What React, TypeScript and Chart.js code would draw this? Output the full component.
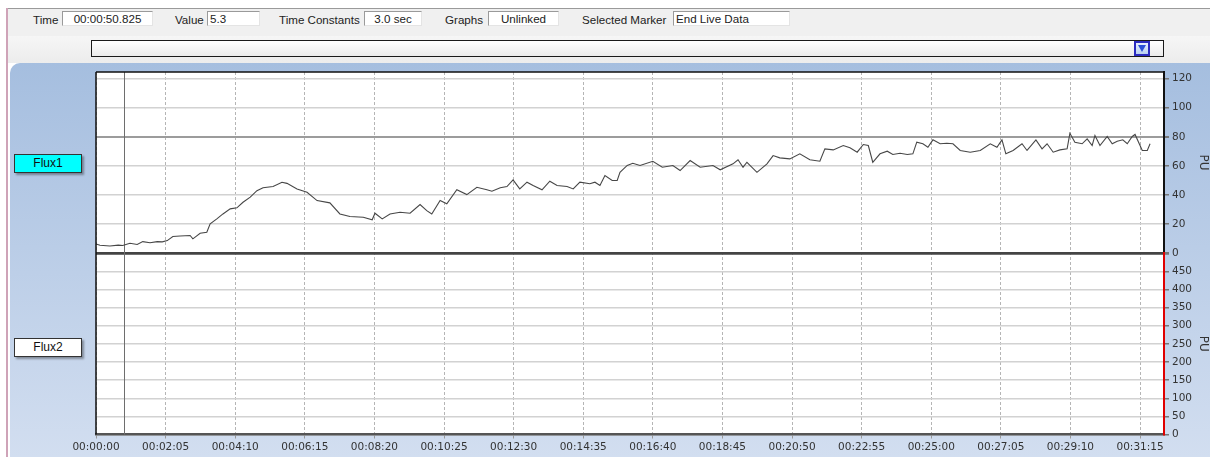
import React, { useEffect, useRef } from "react";
import { Chart, registerables } from "chart.js";

Chart.register(...registerables);

// ---------- data ----------
const fluxTimes = [0,7,25,40,48,61,74,84,97,110,119,128,138,151,169,174,187,199,205,217,228,241,253,264,277,289,300,318,334,343,361,379,397,420,438,456,480,496,501,514,528,546,564,582,594,603,618,630,648,666,684,702,711,726,738,749,761,774,785,801,815,828,846,857,869,887,896,905,914,927,936,941,954,964,977,1000,1017,1036,1049,1067,1085,1108,1121,1144,1153,1162,1169,1187,1205,1216,1228,1246,1264,1282,1300,1309,1324,1342,1354,1367,1378,1387,1395,1408,1421,1431,1444,1457,1467,1474,1485,1494,1503,1516,1528,1539,1552,1570,1588,1606,1618,1627,1634,1647,1663,1672,1688,1699,1708,1719,1731,1744,1749,1758,1771,1780,1789,1794,1803,1816,1825,1834,1844,1852,1861,1866,1879,1888,1893];
const flux1Values = [6.4,5.5,5.0,5.6,5.3,6.9,6.0,8.0,7.2,8.0,7.8,8.7,11.5,11.8,12.2,9.9,13.7,14.4,20.2,23.6,27.0,30.5,31.2,35.0,38.5,43.0,45.0,45.8,48.8,48.0,44.2,41.9,36.2,34.6,27.0,25.2,24.7,23.0,27.5,23.6,27.0,28.2,27.5,33.5,29.3,27.0,36.2,34.0,43.6,40.3,45.3,43.6,42.6,45.0,45.8,50.4,44.2,48.8,46.5,43.6,49.5,46.5,45.8,44.2,48.8,47.7,48.8,46.5,53.4,50.0,50.0,55.6,60.3,61.8,60.3,63.2,59.1,60.3,56.8,63.7,59.1,60.3,57.3,61.4,64.2,59.1,62.5,55.6,61.4,67.1,65.5,64.8,68.3,64.2,63.2,71.7,71.0,74.0,72.4,69.4,74.7,74.0,62.5,68.3,70.1,67.8,68.7,67.8,68.3,76.3,75.2,72.8,77.9,75.2,75.6,75.2,70.6,69.4,70.6,75.2,72.8,77.9,68.3,70.6,75.2,70.6,77.9,71.7,75.2,69.4,71.0,71.7,82.4,76.3,75.2,78.6,74.0,80.9,74.0,80.2,75.2,76.9,77.9,75.2,80.2,81.6,70.6,70.6,75.2];
const flux2Values: number[] = [];

const xTickSeconds = [0,125,250,375,500,625,750,875,1000,1125,1250,1375,1500,1625,1750,1875];
const flux1Ticks = [0,20,40,60,80,100,120];
const flux2Ticks = [0,50,100,150,200,250,300,350,400,450,500];
const markerTime = 50.825;
const limitValue = 80;

const toolbarLabels = ["Time", "Value", "Time Constants", "Graphs", "Selected Marker"];
const toolbarValues = ["00:00:50.825", "5.3", "3.0 sec", "Unlinked", "End Live Data"];
const channelNames = ["Flux1", "Flux2"];
const unitLabel = "PU";

// ---------- helpers ----------
const pad2 = (n: number) => String(n).padStart(2, "0");
const fmtTime = (s: number) => {
  const h = Math.floor(s / 3600);
  const m = Math.floor((s % 3600) / 60);
  const sec = Math.round(s % 60);
  return `${pad2(h)}:${pad2(m)}:${pad2(sec)}`;
};

const tickFont = { family: "DejaVu Sans", size: 10.5 };
const titleFont = { family: "DejaVu Sans", size: 12 };

const framePlugin = {
  id: "frame",
  beforeDraw(chart: any) {
    const { ctx, chartArea: a } = chart;
    ctx.save();
    ctx.fillStyle = "#ffffff";
    ctx.fillRect(a.left, a.top, a.right - a.left, a.bottom - a.top);
    ctx.restore();
  },
  beforeDatasetsDraw(chart: any) {
    const { ctx, chartArea: a } = chart;
    const x = chart.scales.x.getPixelForValue(markerTime);
    ctx.save();
    ctx.strokeStyle = "#6e6e6e";
    ctx.lineWidth = 1;
    ctx.beginPath();
    ctx.moveTo(Math.round(x) + 0.5, a.top);
    ctx.lineTo(Math.round(x) + 0.5, a.bottom);
    ctx.stroke();
    ctx.restore();
  },
  afterDraw(chart: any) {
    const { ctx, chartArea: a } = chart;
    ctx.save();
    ctx.strokeStyle = "#111";
    ctx.lineWidth = 1.5;
    ctx.beginPath();
    ctx.moveTo(a.left, a.top);
    ctx.lineTo(a.right, a.top);
    ctx.moveTo(a.left, a.top);
    ctx.lineTo(a.left, a.bottom);
    ctx.stroke();
    ctx.restore();
  },
};

function FluxChart() {
  const ref = useRef<HTMLCanvasElement | null>(null);
  useEffect(() => {
    if (!ref.current) return;
    const chart = new Chart(ref.current, {
      type: "line",
      data: {
        datasets: [
          {
            label: channelNames[0],
            data: fluxTimes.map((t, i) => ({ x: t, y: flux1Values[i] })),
            yAxisID: "y1",
            borderColor: "#474747",
            borderWidth: 1.1,
            pointRadius: 0,
            tension: 0,
          },
          {
            label: channelNames[1],
            data: flux2Values.map((v, i) => ({ x: fluxTimes[i], y: v })),
            yAxisID: "y2",
            borderColor: "#474747",
            borderWidth: 1,
            pointRadius: 0,
          },
        ],
      },
      options: {
        animation: false,
        responsive: false,
        devicePixelRatio: 1,
        layout: { padding: { left: 96, top: 72, right: 0, bottom: 0 } },
        plugins: { legend: { display: false }, tooltip: { enabled: false } },
        scales: {
          x: {
            type: "linear",
            min: 0,
            max: 1918,
            afterBuildTicks: (s: any) => {
              s.ticks = xTickSeconds.map((v) => ({ value: v }));
            },
            afterFit: (s: any) => {
              s.height = 22.5;
            },
            ticks: {
              font: tickFont,
              color: "#333",
              padding: 2,
              maxRotation: 0,
              autoSkip: false,
              callback: (v: any) => fmtTime(Number(v)),
            },
            grid: {
              color: "#b5b5b5",
              lineWidth: 1,
              tickLength: 4,
              tickColor: "#999",
            },
            border: { color: "#555", width: 2.5, dash: [3, 2] },
          },
          y1: {
            type: "linear",
            position: "right",
            stack: "flux",
            stackWeight: 1,
            min: 0,
            max: 124.5,
            afterBuildTicks: (s: any) => {
              s.ticks = flux1Ticks.map((v) => ({ value: v }));
            },
            afterFit: (s: any) => {
              s.width = 46;
            },
            ticks: { font: tickFont, color: "#333", padding: 3, autoSkip: false },
            grid: {
              color: (c: any) =>
                c.tick && c.tick.value === 0 ? "#444" : c.tick && c.tick.value === limitValue ? "#9c9c9c" : "#d2d2d2",
              lineWidth: (c: any) =>
                c.tick && c.tick.value === 0 ? 2.5 : c.tick && c.tick.value === limitValue ? 2 : 1.5,
              tickLength: 5,
              tickColor: "#777",
            },
            border: { color: "#111", width: 2 },
            title: { display: true, text: unitLabel, font: titleFont, color: "#333", padding: 0 },
          },
          y2: {
            type: "linear",
            position: "right",
            stack: "flux",
            stackWeight: 1,
            min: 0,
            max: 500,
            afterBuildTicks: (s: any) => {
              s.ticks = flux2Ticks.map((v) => ({ value: v }));
            },
            afterFit: (s: any) => {
              s.width = 46;
            },
            ticks: {
              font: tickFont,
              color: "#333",
              padding: 3,
              autoSkip: false,
              callback: (v: any) => (Number(v) === 500 ? "" : String(v)),
            },
            grid: {
              color: (c: any) => (c.tick && c.tick.value === 500 ? "#444" : "#d2d2d2"),
              lineWidth: (c: any) => (c.tick && c.tick.value === 500 ? 2.5 : 1.5),
              tickLength: 5,
              tickColor: "#777",
            },
            border: { color: "#e00000", width: 2 },
            title: { display: true, text: unitLabel, font: titleFont, color: "#333", padding: 0 },
          },
        },
      },
      plugins: [framePlugin],
    } as any);
    return () => chart.destroy();
  }, []);
  return <canvas ref={ref} width={1210} height={457} style={{ position: "absolute", left: 0, top: 0, width: 1210, height: 457 }} />;
}

const uiFont = "'Liberation Sans', Arial, sans-serif";

const fieldLayout = [
  { lx: 33, bx: 62, bw: 91, align: "center" },
  { lx: 175, bx: 207, bw: 53, align: "left" },
  { lx: 279, bx: 364, bw: 58, align: "center" },
  { lx: 445, bx: 488, bw: 71, align: "center" },
  { lx: 582, bx: 673, bw: 117, align: "left" },
];

export default function App() {
  return (
    <div style={{ position: "fixed", left: 0, top: 0, width: 1210, height: 457, overflow: "hidden", background: "#fff", fontFamily: uiFont }}>
      {/* top frame */}
      <div style={{ position: "absolute", left: 6, top: 8, width: 2, height: 449, background: "#cfa3b8" }} />
      <div style={{ position: "absolute", left: 8, top: 8, right: 0, height: 1, background: "#9a9a9a" }} />
      <div style={{ position: "absolute", left: 8, top: 9, right: 0, height: 27, background: "#f0f0f0" }} />
      <div style={{ position: "absolute", left: 8, top: 36, right: 0, height: 27, background: "linear-gradient(#f6f6f6, #ececec)" }} />
      {toolbarLabels.map((lab, i) => {
        const f = fieldLayout[i];
        return (
          <React.Fragment key={lab}>
            <div style={{ position: "absolute", left: f.lx, top: 12, fontSize: 11.6, color: "#222", lineHeight: "15px", whiteSpace: "nowrap" }}>{lab}</div>
            <div
              style={{
                position: "absolute",
                left: f.bx,
                top: 11,
                width: f.bw,
                height: 15,
                boxSizing: "border-box",
                borderTop: "1px solid #9a9a9a",
                borderLeft: "1px solid #9a9a9a",
                borderBottom: "1px solid #e4e4e4",
                borderRight: "1px solid #e4e4e4",
                background: "#fff",
                fontSize: 11.6,
                color: "#222",
                lineHeight: "14px",
                textAlign: f.align as any,
                paddingLeft: f.align === "left" ? 2 : 0,
                whiteSpace: "nowrap",
              }}
            >
              {toolbarValues[i]}
            </div>
          </React.Fragment>
        );
      })}
      {/* dropdown */}
      <div style={{ position: "absolute", left: 91, top: 40, width: 1073, height: 17, boxSizing: "border-box", border: "1px solid #1a1a1a", background: "linear-gradient(#ffffff, #ebebeb)" }} />
      <div style={{ position: "absolute", left: 1134, top: 41, width: 16, height: 15, boxSizing: "border-box", border: "2px solid #2b2bc0", background: "linear-gradient(#e8f0ff, #b8d0f0)" }}>
        <div style={{ position: "absolute", left: 2, top: 2, width: 0, height: 0, borderLeft: "4px solid transparent", borderRight: "4px solid transparent", borderTop: "7px solid #2a50d8" }} />
      </div>
      {/* blue panel */}
      <div style={{ position: "absolute", left: 10, top: 63, right: 0, bottom: 0, borderTopLeftRadius: 10, background: "linear-gradient(#a5bedf, #d2def0)" }} />
      {/* channel buttons */}
      {channelNames.map((n, i) => (
        <div
          key={n}
          style={{
            position: "absolute",
            left: 14,
            top: i === 0 ? 154 : 338,
            width: 68,
            height: 19,
            boxSizing: "border-box",
            border: "1px solid #333",
            background: i === 0 ? "#00ffff" : "#ffffff",
            boxShadow: "2px 2px 2px rgba(0,0,0,0.35)",
            fontSize: 12,
            color: "#111",
            textAlign: "center",
            lineHeight: "17px",
          }}
        >
          {n}
        </div>
      ))}
      <FluxChart />
    </div>
  );
}
